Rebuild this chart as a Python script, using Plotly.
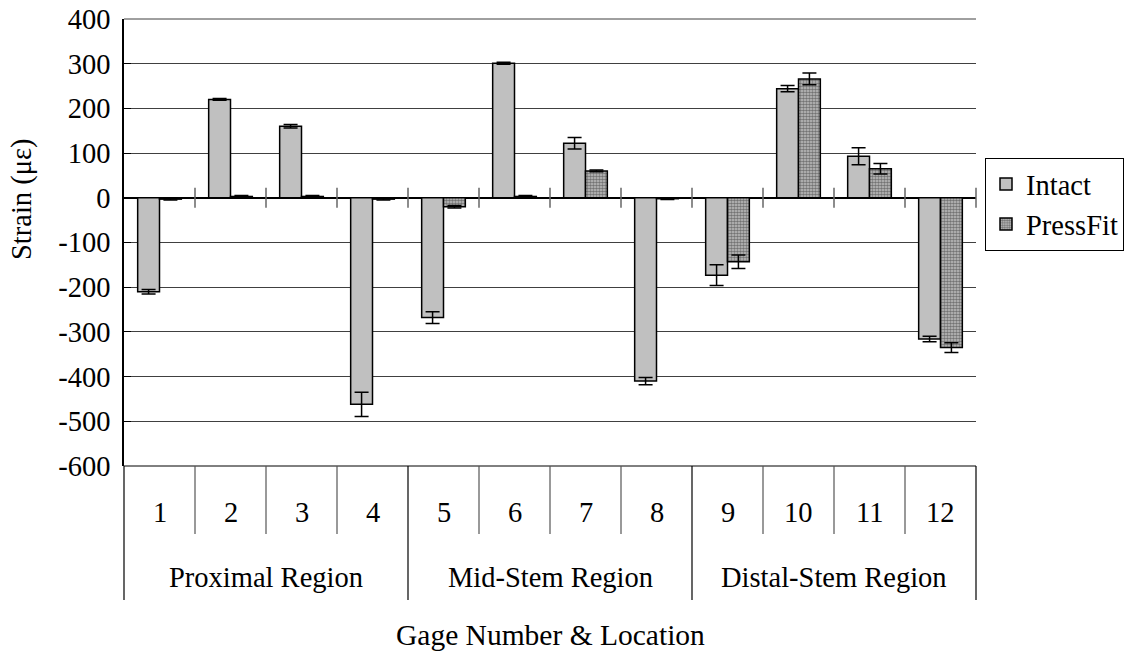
import plotly.graph_objects as go

# Strain gauge readings (microstrain) per gage, intact femur vs press-fit stem
gages = ["1", "2", "3", "4", "5", "6", "7", "8", "9", "10", "11", "12"]
regions = ["Proximal Region", "Mid-Stem Region", "Distal-Stem Region"]
gages_per_region = [4, 4, 4]

intact = [-210, 220, 160, -462, -268, 301, 122, -410, -173, 244, 93, -316]
intact_err = [5, 2, 4, 27, 13, 2, 13, 8, 23, 7, 19, 6]
pressfit = [-3, 3, 3, -3, -20, 3, 60, -2, -143, 266, 65, -335]
pressfit_err = [2, 2, 2, 2, 3, 2, 2, 2, 15, 13, 12, 11]

y_ticks = [400, 300, 200, 100, 0, -100, -200, -300, -400, -500, -600]
y_tick_text = ["400", "300", "200", "100", "0", "-100", "-200", "-300", "-400", "-500", "-600"]

FONT = "'Liberation Serif', 'Times New Roman', Times, 'DejaVu Serif', serif"
FS = 27
FS_CAT = 28.5
W, H = 1128, 653
ML, MR, MT, MB = 124, 152, 19, 187
PLOT_H = H - MT - MB
PLOT_W = W - ML - MR

n = len(gages)
xpos = list(range(1, n + 1))
y_min, y_max = min(y_ticks), max(y_ticks)


def py(px_from_top):
    """pixel row -> paper y"""
    return (H - MB - px_from_top) / PLOT_H


def px(cat_pos):
    """category coordinate -> paper x"""
    return (cat_pos - 0.5) / n


fig = go.Figure()
fig.add_bar(
    x=xpos, y=intact, name="Intact",
    marker=dict(color="#c0c0c0", line=dict(color="black", width=1.5)),
    error_y=dict(type="data", array=intact_err, color="black", thickness=1.5, width=7),
)
fig.add_bar(
    x=xpos, y=pressfit, name="PressFit",
    marker=dict(
        color="#c4c4c4",
        line=dict(color="black", width=1.5),
        pattern=dict(shape=".", fgcolor="#222222", bgcolor="#c4c4c4", size=3, solidity=0.6),
    ),
    error_y=dict(type="data", array=pressfit_err, color="black", thickness=1.5, width=7),
)

shapes = []
zero_paper = (0 - y_min) / (y_max - y_min)
tick_half = 10 / PLOT_H
# crossing tick marks on the zero axis at category boundaries
for k in range(1, n + 1):
    xb = px(k + 0.5)
    shapes.append(dict(type="line", xref="paper", yref="paper", x0=xb, x1=xb,
                       y0=zero_paper - tick_half, y1=zero_paper + tick_half,
                       line=dict(color="#666666", width=1.5)))

# top border line and category table
shapes.append(dict(type="line", xref="paper", yref="paper", x0=0, x1=1, y0=1, y1=1,
                   line=dict(color="#404040", width=1)))
shapes.append(dict(type="line", xref="paper", yref="paper", x0=0, x1=1, y0=0, y1=0,
                   line=dict(color="black", width=1)))

region_edges = [0]
for c in gages_per_region:
    region_edges.append(region_edges[-1] + c)

gage_bottom = py(534)
region_bottom = py(600)
for k in range(n + 1):
    xb = px(k + 0.5)
    yb = region_bottom if k in region_edges else gage_bottom
    shapes.append(dict(type="line", xref="paper", yref="paper", x0=xb, x1=xb, y0=0, y1=yb,
                       line=dict(color="black" if k in region_edges else "#555555", width=1.2)))

annotations = []
for pos, g in zip(xpos, gages):
    annotations.append(dict(x=px(pos), y=py(512), xref="paper", yref="paper", text=g,
                            showarrow=False, xanchor="center", yanchor="middle",
                            font=dict(family=FONT, size=FS_CAT, color="black")))
for i, r in enumerate(regions):
    center = (region_edges[i] + region_edges[i + 1]) / 2 + 0.5
    annotations.append(dict(x=px(center), y=py(577), xref="paper", yref="paper", text=r,
                            showarrow=False, xanchor="center", yanchor="middle",
                            font=dict(family=FONT, size=FS_CAT, color="black")))
annotations.append(dict(x=px((n + 1) / 2), y=py(635), xref="paper", yref="paper",
                        text="Gage Number & Location", showarrow=False,
                        xanchor="center", yanchor="middle",
                        font=dict(family=FONT, size=29.5, color="black")))
annotations.append(dict(x=(22 - ML) / PLOT_W, y=py(200), xref="paper", yref="paper",
                        text="Strain (με)", textangle=-90, showarrow=False,
                        xanchor="center", yanchor="middle",
                        font=dict(family=FONT, size=FS_CAT, color="black")))

fig.update_layout(
    width=W, height=H, autosize=False,
    margin=dict(l=ML, r=MR, t=MT, b=MB, pad=0, autoexpand=False),
    paper_bgcolor="white", plot_bgcolor="white",
    barmode="group", bargap=0.385, bargroupgap=0,
    font=dict(family=FONT, size=FS, color="black"),
    showlegend=True,
    legend=dict(x=(985 - ML) / PLOT_W, xanchor="left", y=py(158), yanchor="top",
                bordercolor="black", borderwidth=1, bgcolor="white",
                font=dict(family=FONT, size=FS_CAT, color="black"),
                tracegroupgap=0, itemwidth=30),
    shapes=shapes,
    annotations=annotations,
    xaxis=dict(range=[0.5, n + 0.5], showgrid=False, zeroline=False, showline=False,
               showticklabels=False, ticks="", fixedrange=True),
    yaxis=dict(range=[y_min, y_max], tickvals=y_ticks, ticktext=y_tick_text,
               showgrid=True, gridcolor="#404040", gridwidth=1,
               zeroline=True, zerolinecolor="black", zerolinewidth=1.5,
               showline=True, linecolor="black", linewidth=1.5,
               ticks="inside", ticklen=7, tickcolor="black",
               ticklabelstandoff=6,
               tickfont=dict(family=FONT, size=FS_CAT, color="black")),
)

fig.write_html("out.html")
